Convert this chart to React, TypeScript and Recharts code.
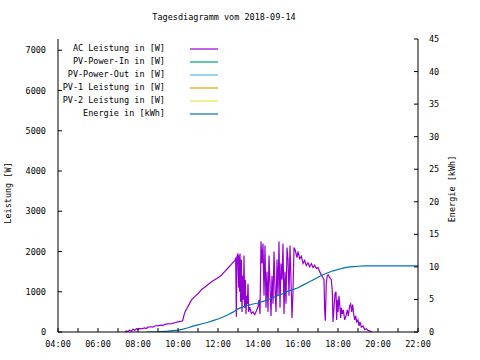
import { LineChart, Line, XAxis, YAxis } from "recharts";

const title = "Tagesdiagramm vom 2018-09-14";

const seriesNames = [
  "AC Leistung in [W]",
  "PV-Power-In in [W]",
  "PV-Power-Out in [W]",
  "PV-1 Leistung in [W]",
  "PV-2 Leistung in [W]",
  "Energie in [kWh]",
];
const seriesColors = ["#9400d3", "#009e73", "#56b4e9", "#e69f00", "#f0e442", "#0072b2"];

const hourTicks = [4, 5, 6, 7, 8, 9, 10, 11, 12, 13, 14, 15, 16, 17, 18, 19, 20, 21, 22];
const wattTicks = [0, 1000, 2000, 3000, 4000, 5000, 6000, 7000];
const kwhTicks = [0, 5, 10, 15, 20, 25, 30, 35, 40, 45];

// AC Leistung [W]
const acTimes = [
  "07:20", "07:25", "07:30", "07:35", "07:40", "07:45", "07:50", "07:55", "08:00", "08:05",
  "08:10", "08:20", "08:25", "08:30", "08:40", "08:45", "08:50", "09:00", "09:10", "09:15",
  "09:20", "09:30", "09:40", "09:50", "10:00", "10:10", "10:14", "10:18", "10:22", "10:26",
  "10:33", "10:40", "10:50", "11:00", "11:10", "11:20", "11:30", "11:40", "11:50", "12:00",
  "12:10", "12:20", "12:30", "12:40", "12:48", "12:51", "12:53", "12:55", "12:57", "13:00",
  "13:02", "13:03", "13:05", "13:06", "13:08", "13:10", "13:12", "13:14", "13:16", "13:18",
  "13:20", "13:22", "13:24", "13:26", "13:28", "13:30", "13:32", "13:35", "13:40", "13:45",
  "13:50", "13:55", "14:00", "14:03", "14:06", "14:09", "14:12", "14:15", "14:18", "14:21",
  "14:24", "14:27", "14:30", "14:33", "14:36", "14:39", "14:42", "14:45", "14:48", "14:51",
  "14:54", "14:57", "15:00", "15:03", "15:06", "15:09", "15:12", "15:15", "15:18", "15:21",
  "15:24", "15:27", "15:30", "15:33", "15:36", "15:39", "15:42", "15:45", "15:48", "15:51",
  "15:54", "15:57", "16:00", "16:05", "16:10", "16:15", "16:20", "16:25", "16:30", "16:35",
  "16:40", "16:45", "16:50", "16:55", "17:00", "17:05", "17:10", "17:15", "17:18", "17:20",
  "17:22", "17:25", "17:28", "17:31", "17:35", "17:40", "17:43", "17:45", "17:48", "17:51",
  "17:54", "17:56", "17:58", "18:00", "18:03", "18:05", "18:08", "18:10", "18:13", "18:16",
  "18:20", "18:24", "18:28", "18:31", "18:35", "18:38", "18:41", "18:44", "18:47", "18:50",
  "18:53", "18:56", "19:00", "19:03", "19:06", "19:10", "19:15", "19:20", "19:25", "19:30",
  "19:35", "19:42",
];
const acWatts = [
  0, 25, 10, 50, 20, 70, 40, 80, 60, 90,
  80, 100, 85, 120, 130, 120, 150, 160, 170, 160,
  190, 200, 210, 230, 250, 270, 280, 420, 520, 570,
  680, 790, 880, 950, 1050, 1110, 1180, 1240, 1300, 1350,
  1410, 1500, 1590, 1680, 1760, 1780, 1850, 380, 1880, 1950,
  1100, 1900, 1000, 1950, 750, 1800, 500, 1400, 800, 1900,
  600, 1300, 450, 900, 700, 1200, 500, 620, 460, 500,
  430, 520, 620, 800, 450, 2250, 1700, 2200, 900, 2150,
  600, 1500, 500, 1900, 1200, 400, 1400, 700, 2000, 1100,
  500, 1800, 900, 2250, 600, 1700, 1300, 2200, 450, 1500,
  700, 2100, 1800, 900, 2150, 1300, 350, 1000, 2100, 2050,
  1950, 1850, 2000, 1820, 1880, 1700, 1780, 1650, 1720, 1620,
  1700, 1600, 1660, 1580, 1600, 1500, 1420, 1350, 1300, 550,
  280, 1250, 1400, 1420, 1350, 1300, 1000, 250, 600, 950,
  1000, 300, 800, 500, 900, 700, 350, 600, 450, 550,
  300, 400, 550, 400, 650, 700, 500, 680, 450, 300,
  400, 250, 300, 150, 250, 120, 150, 60, 80, 40,
  30, 0,
];

// Energie [kWh]
const energyTimes = [
  "08:26", "09:00", "09:30", "10:00", "10:15", "10:30", "10:45", "11:00", "11:15", "11:30",
  "11:45", "12:00", "12:15", "12:30", "12:45", "13:00", "13:15", "13:30", "13:45", "14:00",
  "14:15", "14:30", "14:45", "15:00", "15:15", "15:30", "15:45", "16:00", "16:15", "16:30",
  "16:45", "17:00", "17:15", "17:30", "17:45", "18:00", "18:15", "18:30", "18:45", "19:00",
  "19:20", "22:00",
];
const energyKwh = [
  0, 0.03, 0.12, 0.3, 0.45, 0.65, 0.9, 1.1, 1.3, 1.5,
  1.75, 2.0, 2.3, 2.65, 3.05, 3.55, 3.85, 4.1, 4.3, 4.45,
  4.7, 4.95, 5.3, 5.6, 5.9, 6.3, 6.5, 6.8, 7.2, 7.6,
  8.0, 8.4, 8.8, 9.1, 9.4, 9.6, 9.8, 9.95, 10.05, 10.1,
  10.15, 10.15,
];

const toMin = (s: string) => {
  const [h, m] = s.split(":").map(Number);
  return h * 60 + m;
};

const acData = acTimes.map((t, i) => ({ t: toMin(t), v: acWatts[i] }));
const energyData = energyTimes.map((t, i) => ({ t: toMin(t), v: energyKwh[i] }));

const FONT = "'DejaVu Sans Mono', monospace";
const FS = 8.5;

const pad = (n: number) => (n < 10 ? "0" + n : "" + n);

function HourTick(props: any) {
  const { x, y, payload } = props;
  const h = payload.value / 60;
  if (h % 2 !== 0) return <g />;
  return (
    <text x={x} y={y} dy="0.71em" textAnchor="middle" fontFamily={FONT} fontSize={FS} fill="#000">
      {pad(h)}:00
    </text>
  );
}

const noTick = () => <g />;

export default function App() {
  const axisStyle = { stroke: "#000" };
  const tickStyle = { fontFamily: FONT, fontSize: FS, fill: "#000" };
  const legendY = [49, 62, 75, 88, 101, 114];

  return (
    <div style={{ position: "fixed", left: 0, top: 0, width: 480, height: 360, background: "#fff" }}>
      <LineChart width={480} height={360} margin={{ top: 39, right: 0, bottom: 0, left: 0 }}>
        <XAxis
          xAxisId="bottom"
          type="number"
          dataKey="t"
          domain={[240, 1320]}
          ticks={hourTicks.map((h) => h * 60)}
          allowDataOverflow
          height={28}
          tickSize={-4}
          tickMargin={13}
          tick={HourTick}
          axisLine={axisStyle}
          tickLine={axisStyle}
          interval={0}
        />
        <XAxis
          xAxisId="top"
          orientation="top"
          type="number"
          dataKey="t"
          domain={[240, 1320]}
          ticks={hourTicks.map((h) => h * 60)}
          allowDataOverflow
          height={0}
          tickSize={-4}
          tick={noTick}
          axisLine={axisStyle}
          tickLine={axisStyle}
          interval={0}
        />
        <YAxis
          yAxisId="w"
          type="number"
          domain={[0, 7280]}
          ticks={wattTicks}
          allowDataOverflow
          width={58}
          tickSize={-4}
          tickMargin={16}
          tick={tickStyle}
          axisLine={axisStyle}
          tickLine={axisStyle}
          interval={0}
        />
        <YAxis
          yAxisId="wMirror"
          orientation="right"
          type="number"
          domain={[0, 7280]}
          ticks={wattTicks}
          allowDataOverflow
          width={0}
          tickSize={-4}
          tick={noTick}
          axisLine={axisStyle}
          tickLine={axisStyle}
          interval={0}
        />
        <YAxis
          yAxisId="kwh"
          orientation="right"
          type="number"
          domain={[0, 45]}
          ticks={kwhTicks}
          allowDataOverflow
          width={62}
          tickSize={-4}
          tickMargin={15}
          tick={{ ...tickStyle, textAnchor: "start" }}
          axisLine={axisStyle}
          tickLine={axisStyle}
          interval={0}
        />
        <Line
          xAxisId="bottom"
          yAxisId="w"
          data={acData}
          dataKey="v"
          name={seriesNames[0]}
          stroke={seriesColors[0]}
          strokeWidth={1.2}
          dot={false}
          type="linear"
          isAnimationActive={false}
        />
        <Line
          xAxisId="bottom"
          yAxisId="kwh"
          data={energyData}
          dataKey="v"
          name={seriesNames[5]}
          stroke={seriesColors[5]}
          strokeWidth={1.2}
          dot={false}
          type="linear"
          isAnimationActive={false}
        />
      </LineChart>
      <svg
        width={480}
        height={360}
        style={{ position: "absolute", left: 0, top: 0, pointerEvents: "none" }}
        fontFamily={FONT}
        fontSize={FS}
      >
        <text x={224} y={20} textAnchor="middle" fill="#000">
          {title}
        </text>
        <text transform="translate(11,193) rotate(-90)" textAnchor="middle" fill="#000">
          Leistung [W]
        </text>
        <text transform="translate(455,189) rotate(-90)" textAnchor="middle" fill="#000">
          Energie [kWh]
        </text>
        {seriesNames.map((name, i) => (
          <g key={name}>
            <text x={165} y={legendY[i] + 1.5} textAnchor="end" fill="#000">
              {name}
            </text>
            <line x1={190} x2={218} y1={legendY[i]} y2={legendY[i]} stroke={seriesColors[i]} strokeWidth={1.2} />
          </g>
        ))}
      </svg>
    </div>
  );
}
